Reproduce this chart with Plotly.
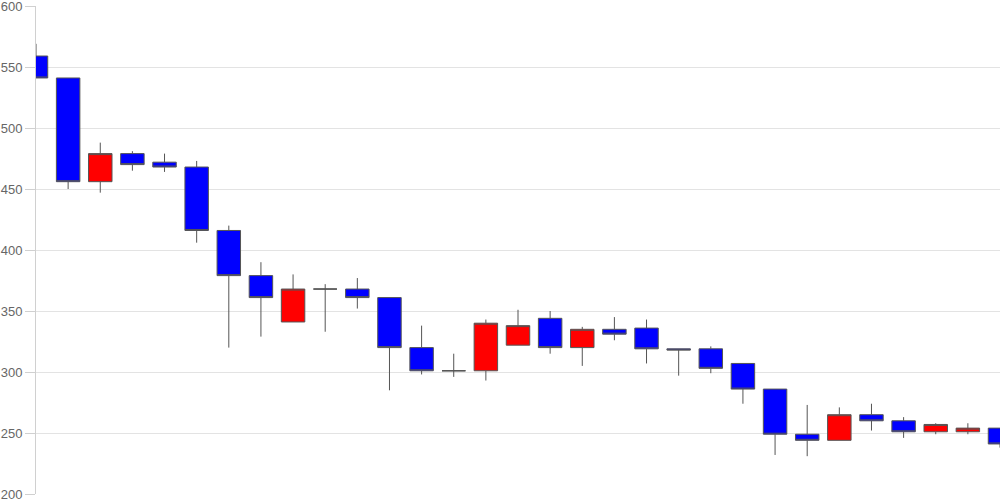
import plotly.graph_objects as go

idx = list(range(31))
opens  = [559, 541, 456, 479, 472, 468, 416, 379, 341, 368, 368, 361, 320, 301, 301, 322, 344, 320, 335, 336, 319, 319, 307, 286, 249, 244, 265, 260, 251, 251, 254]
highs  = [569, 541, 488, 481, 479, 473, 420, 390, 380, 372, 377, 361, 338, 315, 343, 351, 350, 337, 345, 343, 319, 321, 307, 286, 273, 271, 274, 263, 258, 258, 254]
lows   = [541, 450, 447, 465, 464, 406, 320, 329, 341, 333, 352, 285, 298, 296, 293, 322, 315, 305, 326, 307, 297, 299, 274, 232, 231, 244, 252, 246, 249, 249, 238]
closes = [541, 456, 479, 470, 468, 416, 379, 361, 368, 368, 361, 320, 301, 301, 340, 338, 320, 335, 331, 319, 318, 303, 286, 249, 244, 265, 260, 251, 257, 254, 241]
y_ticks = [200, 250, 300, 350, 400, 450, 500, 550, 600]

fig = go.Figure(go.Candlestick(
    x=idx, open=opens, high=highs, low=lows, close=closes,
    increasing=dict(fillcolor="#ff0000", line=dict(color="#555555", width=1)),
    decreasing=dict(fillcolor="#0000ff", line=dict(color="#555555", width=1)),
    whiskerwidth=0,
    showlegend=False,
))

fig.update_layout(
    width=1000, height=500,
    margin=dict(l=36, r=0, t=6, b=6),
    paper_bgcolor="white", plot_bgcolor="white",
    boxgap=0.27, boxgroupgap=0,
    font=dict(family="Liberation Sans, Arial, sans-serif", size=13, color="#666666"),
    xaxis=dict(range=[0, 30], showgrid=False, showticklabels=False, zeroline=False,
               rangeslider=dict(visible=False), showline=False, ticks="", automargin=False),
    yaxis=dict(range=[200, 600], tickvals=y_ticks, showgrid=True, gridcolor="#e3e3e3",
               zeroline=False, showline=True, linecolor="#d0d0d0", linewidth=1,
               ticks="outside", ticklen=10, tickcolor="#d0d0d0", automargin=False,
               ticklabeloverflow="allow",
               tickfont=dict(size=13, color="#666666")),
)

fig.write_html("out.html", config={"displayModeBar": False},
               post_script="document.body.style.margin='0';document.body.style.overflow='hidden';")
